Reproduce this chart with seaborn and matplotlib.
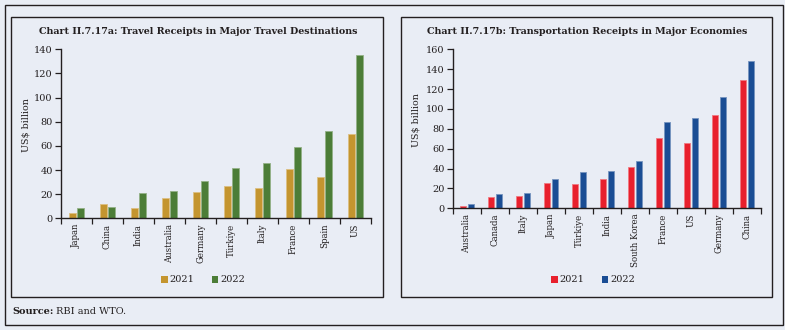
import matplotlib
matplotlib.use("Agg")
import matplotlib.pyplot as plt
import matplotlib.patches as mpatches
import matplotlib.colors as mcolors
import seaborn as sns
import pandas as pd

# ---- data ----
years = ["2021", "2022"]

travel_countries = ["Japan", "China", "India", "Australia", "Germany",
                    "Türkiye", "Italy", "France", "Spain", "US"]
travel_2021 = [4.6, 11.5, 8.3, 16.8, 22.2, 26.6, 25.0, 40.5, 34.2, 70.2]
travel_2022 = [8.6, 9.7, 21.3, 23.0, 31.0, 41.3, 45.8, 59.0, 72.0, 135.0]

transport_countries = ["Australia", "Canada", "Italy", "Japan", "Türkiye",
                       "India", "South Korea", "France", "US", "Germany", "China"]
transport_2021 = [2.5, 11.7, 12.0, 25.0, 24.3, 29.0, 42.0, 70.5, 66.0, 94.0, 129.3]
transport_2022 = [4.0, 14.0, 15.6, 29.0, 36.3, 37.3, 48.0, 86.5, 91.0, 112.0, 148.6]

travel_colors = ["#C4952F", "#4C7D37"]
transport_colors = ["#E8202D", "#1A4D94"]

BG = "#E9EDF5"
DARK = "#231F20"

sns.set_theme(style="white")
plt.rcParams["font.family"] = ["DejaVu Serif"]
plt.rcParams["text.color"] = DARK
plt.rcParams["axes.labelcolor"] = DARK
plt.rcParams["xtick.color"] = DARK
plt.rcParams["ytick.color"] = DARK

W, H = 785, 330
fig = plt.figure(figsize=(W / 100, H / 100), dpi=100, facecolor=BG)


def fx(x):
    return x / W


def fy(y):
    return 1 - y / H


# frames
fig.patches.append(mpatches.Rectangle((fx(5), fy(324.5)), fx(778), (319.5) / H,
                                      transform=fig.transFigure, fill=False,
                                      edgecolor=DARK, linewidth=1.0))
fig.patches.append(mpatches.Rectangle((fx(11), fy(297)), fx(372), 280 / H,
                                      transform=fig.transFigure, fill=False,
                                      edgecolor=DARK, linewidth=1.0))
fig.patches.append(mpatches.Rectangle((fx(400.5), fy(297)), fx(371.5), 280 / H,
                                      transform=fig.transFigure, fill=False,
                                      edgecolor=DARK, linewidth=1.0))


def lighten(c, amt=0.35):
    r, g, b = mcolors.to_rgb(c)
    return (r + (1 - r) * amt, g + (1 - g) * amt, b + (1 - b) * amt)


def panel(rect, countries, v21, v22, colors, ymax, ystep, title, title_xy,
          ylabel_xy, leg_xy, width, gap):
    ax = fig.add_axes(rect)
    ax.set_facecolor(BG)
    df = pd.DataFrame({
        "country": countries * 2,
        "value": list(v21) + list(v22),
        "year": [years[0]] * len(countries) + [years[1]] * len(countries),
    })
    sns.barplot(data=df, x="country", y="value", hue="year", order=countries,
                hue_order=years, palette=colors, width=width, gap=gap,
                saturation=1, legend=False, ax=ax)
    for p in ax.patches:
        fc = p.get_facecolor()
        p.set_edgecolor(lighten(fc, 0.4))
        p.set_linewidth(0.6)
    n = len(countries)
    ax.set_xlim(-0.5, n - 0.5)
    ax.set_ylim(0, ymax)
    ax.set_yticks(range(0, ymax + 1, ystep))
    ax.set_xticks(range(n))
    ax.set_xticklabels(countries, rotation=90, fontsize=6.2)
    ax.set_xticks([i - 0.5 for i in range(n + 1)], minor=True)
    ax.tick_params(axis="x", which="major", length=0, pad=4)
    ax.tick_params(axis="x", which="minor", length=4, width=0.9, direction="out",
                   bottom=True)
    ax.tick_params(axis="y", length=4, width=0.9, direction="out", left=True,
                   labelsize=7, pad=2)
    for s in ["top", "right"]:
        ax.spines[s].set_visible(False)
    for s in ["left", "bottom"]:
        ax.spines[s].set_color(DARK)
        ax.spines[s].set_linewidth(1.0)
    ax.set_xlabel("")
    ax.set_ylabel("US$ billion", fontsize=6.8)
    ax.yaxis.set_label_coords(fx(ylabel_xy[0]), fy(ylabel_xy[1]),
                              transform=fig.transFigure)
    fig.text(fx(title_xy[0]), fy(title_xy[1]), title, fontsize=6.8,
             fontweight="bold", ha="center", va="center")
    handles = [mpatches.Patch(facecolor=colors[i], edgecolor="none", label=years[i])
               for i in range(2)]
    ax.legend(handles=handles, loc="center", ncol=2, frameon=False,
              bbox_to_anchor=(fx(leg_xy[0]), fy(leg_xy[1])),
              bbox_transform=fig.transFigure, fontsize=7, handlelength=0.7,
              handleheight=0.7, handletextpad=0.2, columnspacing=1.75)
    return ax


ax1 = panel([fx(61), fy(218.3), fx(371 - 61), (218.3 - 49.3) / H],
            travel_countries, travel_2021, travel_2022, travel_colors, 140, 20,
            "Chart II.7.17a: Travel Receipts in Major Travel Destinations",
            (198, 32), (31, 125), (203, 280), 0.56, 0.2)

ax2 = panel([fx(453), fy(208.3), fx(761 - 453), (208.3 - 49.3) / H],
            transport_countries, transport_2021, transport_2022, transport_colors,
            160, 20,
            "Chart II.7.17b: Transportation Receipts in Major Economies",
            (587, 32), (420, 120), (593, 280), 0.6, 0.25)

t1 = fig.text(fx(12), fy(311), "Source:", fontsize=7, fontweight="bold",
              ha="left", va="center")
fig.canvas.draw()
bb = t1.get_window_extent(renderer=fig.canvas.get_renderer())
fig.text(bb.x1 / W + 3 / W, fy(311), "RBI and WTO.", fontsize=7,
         ha="left", va="center")

fig.savefig("out.png", dpi=100, facecolor=BG)
